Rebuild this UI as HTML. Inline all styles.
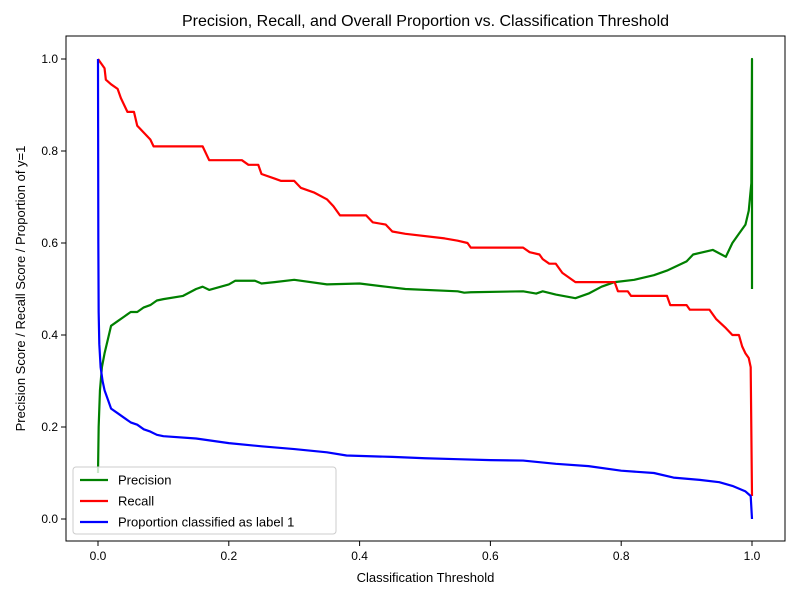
<!DOCTYPE html>
<html><head><meta charset="utf-8">
<style>
html,body{margin:0;padding:0;background:#fff;}
svg{display:block;font-family:"Liberation Sans","DejaVu Sans",sans-serif;}
</style></head>
<body>
<svg id="chart" width="800" height="600" viewBox="0 0 800 600">
<rect x="0" y="0" width="800" height="600" fill="#fff"/>
<g id="plot"></g>
</svg>
<script>
const recallX=[0,0.005,0.01,0.012,0.02,0.03,0.035,0.045,0.055,0.06,0.07,0.08,0.085,0.16,0.17,0.22,0.23,0.245,0.25,0.27,0.28,0.3,0.31,0.33,0.35,0.36,0.37,0.41,0.42,0.44,0.45,0.47,0.53,0.55,0.565,0.57,0.65,0.66,0.675,0.68,0.69,0.7,0.71,0.72,0.73,0.79,0.795,0.81,0.815,0.87,0.875,0.9,0.905,0.935,0.945,0.96,0.97,0.98,0.985,0.99,0.995,0.998,1.0];
const recallY=[1.0,0.99,0.98,0.955,0.945,0.935,0.915,0.885,0.885,0.855,0.84,0.825,0.81,0.81,0.78,0.78,0.77,0.77,0.75,0.74,0.735,0.735,0.72,0.71,0.695,0.68,0.66,0.66,0.645,0.64,0.625,0.62,0.61,0.605,0.6,0.59,0.59,0.58,0.575,0.565,0.555,0.555,0.535,0.525,0.515,0.515,0.495,0.495,0.485,0.485,0.465,0.465,0.455,0.455,0.435,0.415,0.40,0.40,0.375,0.36,0.35,0.33,0.05];
const precX=[0,0.001,0.003,0.006,0.01,0.015,0.02,0.03,0.04,0.05,0.06,0.07,0.08,0.09,0.1,0.13,0.15,0.16,0.17,0.2,0.21,0.24,0.25,0.27,0.3,0.35,0.4,0.44,0.47,0.55,0.56,0.57,0.65,0.67,0.68,0.7,0.73,0.75,0.77,0.79,0.82,0.85,0.87,0.9,0.91,0.94,0.96,0.97,0.98,0.99,0.995,0.999,1.0,1.0];
const precY=[0.1,0.2,0.28,0.33,0.36,0.39,0.42,0.43,0.44,0.45,0.45,0.46,0.465,0.475,0.478,0.485,0.5,0.505,0.498,0.51,0.518,0.518,0.512,0.515,0.52,0.51,0.512,0.505,0.5,0.495,0.492,0.493,0.495,0.49,0.495,0.488,0.48,0.49,0.505,0.515,0.52,0.53,0.54,0.56,0.575,0.585,0.57,0.6,0.62,0.64,0.67,0.73,1.0,0.5];
const propX=[0,0.0005,0.001,0.002,0.004,0.007,0.01,0.015,0.02,0.03,0.04,0.05,0.06,0.07,0.08,0.09,0.1,0.15,0.2,0.25,0.3,0.35,0.38,0.45,0.5,0.55,0.6,0.65,0.7,0.75,0.8,0.85,0.88,0.92,0.95,0.97,0.99,0.998,1.0];
const propY=[1.0,0.6,0.45,0.38,0.33,0.3,0.28,0.26,0.24,0.23,0.22,0.21,0.205,0.195,0.19,0.183,0.18,0.175,0.165,0.158,0.152,0.145,0.138,0.135,0.132,0.13,0.128,0.127,0.12,0.115,0.105,0.1,0.09,0.085,0.08,0.072,0.06,0.05,0.0];
const xTicks=[0,0.2,0.4,0.6,0.8,1.0];
const xTickLabels=["0.0","0.2","0.4","0.6","0.8","1.0"];
const yTicks=[0,0.2,0.4,0.6,0.8,1.0];
const yTickLabels=["0.0","0.2","0.4","0.6","0.8","1.0"];

const L=66,R=785,T=36,B=541;
const xs=v=>98+v*654;
const ys=v=>519-v*460;
const NS="http://www.w3.org/2000/svg";
const g=document.getElementById('plot');
function mk(tag,attrs,parent){const e=document.createElementNS(NS,tag);for(const k in attrs)e.setAttribute(k,attrs[k]);(parent||g).appendChild(e);return e;}

const title=mk('text',{x:(L+R)/2,y:26,'text-anchor':'middle','font-size':16,fill:'#000'});
title.textContent="Precision, Recall, and Overall Proportion vs. Classification Threshold";



const xt=mk('text',{x:(L+R)/2,y:582,'text-anchor':'middle','font-size':13,fill:'#000'});
xt.textContent="Classification Threshold";



const yt=mk('text',{x:0,y:0,'text-anchor':'middle','font-size':13,fill:'#000',transform:`translate(25,${(T+B)/2}) rotate(-90)`});
yt.textContent="Precision Score / Recall Score / Proportion of y=1";



xTicks.forEach((v,i)=>{
  const t=mk('line',{x1:xs(v),x2:xs(v),y1:B,y2:B+5,stroke:'#000','stroke-width':1});
  
  
  const l=mk('text',{x:xs(v),y:B+19,'text-anchor':'middle','font-size':12,fill:'#000'});
  l.textContent=xTickLabels[i];
  
  
});
yTicks.forEach((v,i)=>{
  const t=mk('line',{x1:L-5,x2:L,y1:ys(v),y2:ys(v),stroke:'#000','stroke-width':1});
  
  
  const l=mk('text',{x:L-8,y:ys(v)+4,'text-anchor':'end','font-size':12,fill:'#000'});
  l.textContent=yTickLabels[i];
  
  
});

function series(X,Y,color,name){
  const p=mk('polyline',{points:X.map((x,i)=>xs(x)+','+ys(Y[i])).join(' '),fill:'none',stroke:color,'stroke-width':2.2,'stroke-linejoin':'round'});
  
  
}
series(precX,precY,'#008000','precision-line');
series(recallX,recallY,'#ff0000','recall-line');
series(propX,propY,'#0000ff','proportion-line');

const frame=mk('rect',{x:L,y:T,width:R-L,height:B-T,fill:'none',stroke:'#000','stroke-width':1});



const leg=mk('g',{});


mk('rect',{x:73,y:467,width:263,height:67,rx:3,fill:'#fff','fill-opacity':0.8,stroke:'#ccc'},leg);
const entries=[['Precision','#008000'],['Recall','#ff0000'],['Proportion classified as label 1','#0000ff']];
entries.forEach((e,i)=>{
  const y=480+i*21;
  const ln=mk('line',{x1:80,x2:108,y1:y,y2:y,stroke:e[1],'stroke-width':2.2},leg);
  
  
  const tx=mk('text',{x:118,y:y+4.5,'font-size':13,fill:'#000'},leg);
  tx.textContent=e[0];
  
  
});
</script>
</body></html>
